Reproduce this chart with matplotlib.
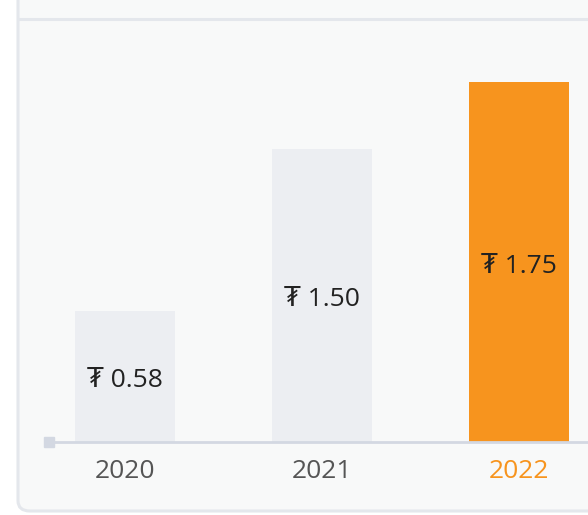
import matplotlib
matplotlib.use("Agg")
from matplotlib import pyplot as plt
from matplotlib.patches import FancyBboxPatch
from matplotlib.lines import Line2D

years = ["2020", "2021", "2022"]
values = [0.58, 1.50, 1.75]
# bar heights as drawn in the reference (relative, not proportional to the values)
bar_heights = [0.364, 0.814, 1.0]
bar_colors = ["#eceef2", "#eceef2", "#f7941e"]
year_colors = ["#555555", "#555555", "#f7941e"]

plt.rcParams['font.family'] = ['Open Sans', 'DejaVu Sans']

fig = plt.figure(figsize=(5.88, 5.15), dpi=100)
W, H = 588, 515

# card background with border
card = FancyBboxPatch((18 / W, 4 / H), 1.2, 1.2, boxstyle="round,pad=0,rounding_size=0.02",
                      transform=fig.transFigure, facecolor="#f8f9f9",
                      edgecolor="#e4e7ec", linewidth=2.2, zorder=-2)
fig.patches.append(card)
fig.lines.append(Line2D([19 / W, 1], [1 - 19 / H, 1 - 19 / H], transform=fig.transFigure,
                        color="#e4e7ec", linewidth=2.2, zorder=-1))

ax = fig.add_axes([48 / W, 73 / H, 540 / W, 422 / H])
ax.set_facecolor("none")
x = range(len(years))
ax.bar(x, bar_heights, width=0.508, color=bar_colors, zorder=2)
ax.set_xlim(-0.39, 2.35)
ax.set_ylim(0, 422 / 360)

for i, (v, h) in enumerate(zip(values, bar_heights)):
    ax.text(i, h / 2 - 0.012, "₮ %.2f" % v, ha="center", va="center", fontsize=19,
            color="#222222", zorder=3)
    ax.text(i, -0.082, years[i], ha="center", va="center", fontsize=19,
            color=year_colors[i], clip_on=False)

for s in ["top", "right", "left"]:
    ax.spines[s].set_visible(False)
ax.spines["bottom"].set_color("#d3d8e2")
ax.spines["bottom"].set_linewidth(2)
ax.set_xticks([])
ax.set_yticks([])
ax.plot([-0.39 + 1 / 197], [0], marker="s", markersize=7.5, color="#d3d8e2",
        clip_on=False, zorder=4)

fig.savefig("out.png", dpi=100)
